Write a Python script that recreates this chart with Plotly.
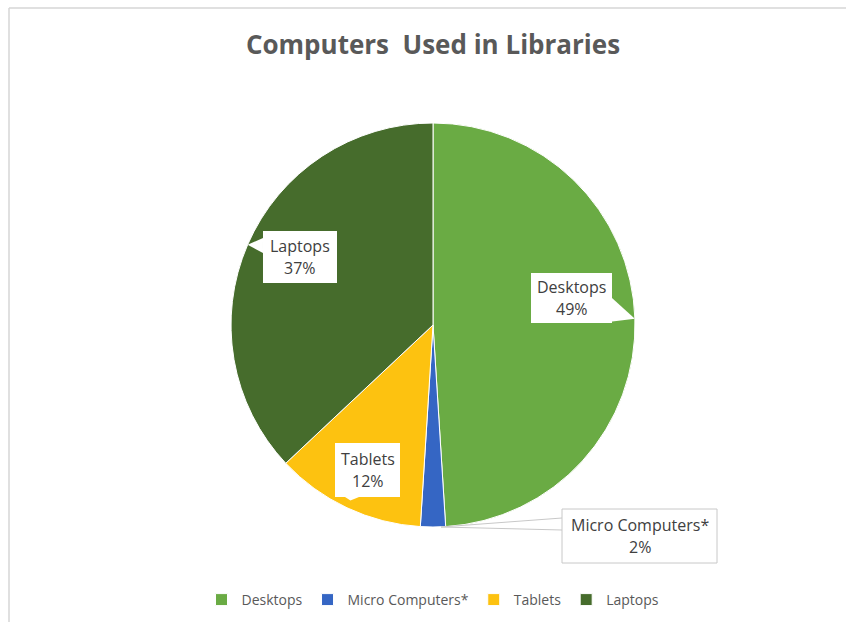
import math
import plotly.graph_objects as go

# Share of computer types used in libraries (percent)
categories = ["Desktops", "Micro Computers*", "Tablets", "Laptops"]
shares = [49, 2, 12, 37]
colors = ["#6aab44", "#3566c4", "#fdc210", "#466c2c"]

W, H = 846, 622
CX, CY, R = 433, 325, 202  # pie centre and radius in pixels


def px(x, y):
    """Pixel position -> paper coordinates."""
    return x / W, 1 - y / H


fig = go.Figure()
fig.add_trace(go.Pie(
    labels=categories,
    values=shares,
    sort=False,
    direction="clockwise",
    rotation=0,
    marker=dict(colors=colors, line=dict(color="white", width=1)),
    textinfo="none",
    hoverinfo="label+percent",
    domain=dict(x=[(CX - R) / W, (CX + R) / W],
                y=[1 - (CY + R) / H, 1 - (CY - R) / H]),
    showlegend=True,
))

# callout boxes: box corners (px), pointer base points (px), how far along the radius the tip sits
callouts = {
    "Laptops": dict(box=(263, 231, 337, 283), base=[(263, 238), (263, 253)], tip=1.0, border=None),
    "Desktops": dict(box=(531, 273, 612, 323), base=[(612, 298), (600, 323)], tip=1.0, border=None),
    "Tablets": dict(box=(335, 443, 400, 497), base=[(345, 497), (359, 497)], tip=0.96, border=None),
    "Micro Computers*": dict(box=(562, 509, 717, 563), base=[(562, 518), (562, 530)], tip=1.0,
                             border="#c8c8c8"),
}

total = sum(shares)
start = 0.0
shapes = []
annotations = []
for cat, val in zip(categories, shares):
    sweep = 360.0 * val / total
    mid = math.radians(start + sweep / 2)
    start += sweep
    cfg = callouts[cat]
    tx = CX + cfg["tip"] * R * math.sin(mid)
    ty = CY - cfg["tip"] * R * math.cos(mid)
    x0, y0, x1, y1 = cfg["box"]

    if cfg["border"] is None:
        # white box merged with a wedge pointing at the slice
        b0, b1 = cfg["base"]
        pts = [(x0, y0), (x1, y0), (x1, y1), (x0, y1)]
        pts_path = [px(*p) for p in pts]
        tri = [px(*b0), px(tx, ty), px(*b1)]
        path_box = "M " + " L ".join(f"{a:.5f},{b:.5f}" for a, b in pts_path) + " Z"
        path_tri = "M " + " L ".join(f"{a:.5f},{b:.5f}" for a, b in tri) + " Z"
        for p in (path_box, path_tri):
            shapes.append(dict(type="path", path=p, xref="paper", yref="paper",
                               fillcolor="white", line=dict(width=0), layer="above"))
    else:
        # leader wedge drawn as two thin lines, then an outlined box
        for b in cfg["base"]:
            bx, by = px(*b)
            ax, ay = px(tx + 8, ty)
            shapes.append(dict(type="line", xref="paper", yref="paper",
                               x0=ax, y0=ay, x1=bx, y1=by,
                               line=dict(color=cfg["border"], width=1), layer="above"))
        p0 = px(x0, y0)
        p1 = px(x1, y1)
        shapes.append(dict(type="rect", xref="paper", yref="paper",
                           x0=p0[0], y0=p1[1], x1=p1[0], y1=p0[1],
                           fillcolor="white", line=dict(color=cfg["border"], width=1),
                           layer="above"))

    cxb = (x0 + x1) / 2
    for txt, yy in ((cat, (y0 + y1) / 2 - 11), (f"{val}%", (y0 + y1) / 2 + 11)):
        ax_, ay_ = px(cxb, yy)
        annotations.append(dict(text=txt, x=ax_, y=ay_, xref="paper", yref="paper",
                                xanchor="center", yanchor="middle", showarrow=False,
                                font=dict(family="Open Sans", size=16, color="#404040")))

# thin frame lines along the top and left edges
for (a, b) in [((9, 8), (W, 8)), ((9, 8), (9, H))]:
    pa, pb = px(*a), px(*b)
    shapes.append(dict(type="line", xref="paper", yref="paper",
                       x0=pa[0], y0=pa[1], x1=pb[0], y1=pb[1],
                       line=dict(color="#d6d6d6", width=1.5)))

title_x, title_y = px(433, 45)
fig.update_layout(
    width=W, height=H,
    margin=dict(l=0, r=0, t=0, b=0),
    paper_bgcolor="white",
    plot_bgcolor="white",
    title=dict(text="<b>Computers  Used in Libraries</b>", x=title_x, y=title_y,
               xanchor="center", yanchor="middle",
               font=dict(family="Open Sans", size=26, color="#595959")),
    legend=dict(orientation="h", x=433 / W, y=1 - 600 / H, xanchor="center", yanchor="middle",
                font=dict(family="Open Sans", size=14, color="#595959"),
                itemwidth=30, tracegroupgap=0),
    shapes=shapes,
    annotations=annotations,
)

fig.write_html("out.html")
